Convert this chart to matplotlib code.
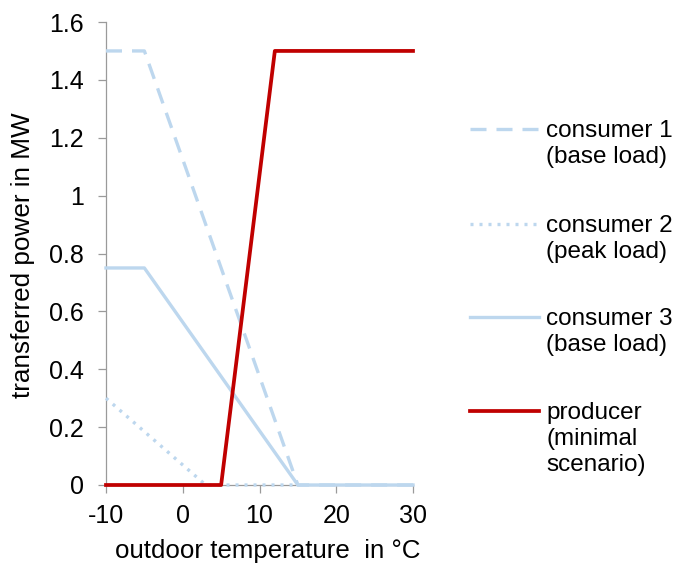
import matplotlib
matplotlib.use("Agg")
import matplotlib.pyplot as plt
from matplotlib.lines import Line2D

plt.rcParams['font.family'] = ['Liberation Sans', 'DejaVu Sans']
plt.rcParams['axes.unicode_minus'] = False

# temperature breakpoints (°C) and power (MW) per series
c1_x = [-10, -5, 15, 30]
c1_y = [1.5, 1.5, 0, 0]
c2_x = [-10, 3, 15]
c2_y = [0.3, 0, 0]
c3_x = [-10, -5, 15, 30]
c3_y = [0.75, 0.75, 0, 0]
prod_x = [-10, 5, 12, 30]
prod_y = [0, 0, 1.5, 1.5]

x_ticks = [-10, 0, 10, 20, 30]
y_ticks = [0, 0.2, 0.4, 0.6, 0.8, 1, 1.2, 1.4, 1.6]
y_ticklabels = ["0", "0.2", "0.4", "0.6", "0.8", "1", "1.2", "1.4", "1.6"]

labels = [["consumer 1", "(base load)"], ["consumer 2", "(peak load)"],
          ["consumer 3", "(base load)"], ["producer", "(minimal", "scenario)"]]

BLUE = "#BDD7EE"
RED = "#C00000"
GREY = "#9A9A9A"

W, H = 676, 565
fig = plt.figure(figsize=(W / 100, H / 100), dpi=100)
# axes box in pixels: left 106, right 413, top 22, bottom 485
ax = fig.add_axes([106 / W, 1 - 485 / H, (413 - 106) / W, (485 - 22) / H])

dash = (0, (4.8, 3))
dot = (0, (0.9, 1.8))
ax.plot(c2_x, c2_y, color=BLUE, lw=2.4, linestyle=dot, clip_on=False)
ax.plot(c3_x, c3_y, color=BLUE, lw=2.4, clip_on=False)
ax.plot(c1_x, c1_y, color=BLUE, lw=2.4, linestyle=dash, clip_on=False)
ax.plot(prod_x, prod_y, color=RED, lw=2.7, clip_on=False)

ax.set_xlim(-10, 30)
ax.set_ylim(0, 1.6)
ax.set_xticks(x_ticks)
ax.set_yticks(y_ticks)
ax.set_yticklabels(y_ticklabels)
for s in ["top", "right"]:
    ax.spines[s].set_visible(False)
for s in ["left", "bottom"]:
    ax.spines[s].set_color(GREY)
    ax.spines[s].set_linewidth(0.9)
    ax.spines[s].set_zorder(0.5)
ax.tick_params(direction="out", length=6, width=0.9, color=GREY, labelsize=18)
ax.tick_params(axis="y", pad=10)
ax.tick_params(axis="x", pad=8)
ax.patch.set_alpha(0)

# axis titles placed in figure pixels
fig.text(268 / W, 1 - 558 / H, "outdoor temperature  in °C", fontsize=18.6,
         ha="center", va="baseline")
fig.text(23 / W, 1 - 255 / H, "transferred power in MW", fontsize=18.8,
         rotation=90, ha="center", va="center")

# legend drawn by hand so the line sits on the first text line
styles = [dict(color=BLUE, lw=2.4, linestyle=dash),
          dict(color=BLUE, lw=2.4, linestyle=dot),
          dict(color=BLUE, lw=2.4),
          dict(color=RED, lw=2.7)]
ys = [129, 224, 317, 411]
for st, lab, yp in zip(styles, labels, ys):
    yf = 1 - yp / H
    fig.add_artist(Line2D([470 / W, 539 / W], [yf, yf], transform=fig.transFigure, **st))
    for i, line in enumerate(lab):
        fig.text(546 / W, 1 - (yp + 8 + 26 * i) / H, line, fontsize=17.5,
                 va="baseline", ha="left")

fig.savefig("out.png", dpi=100)
